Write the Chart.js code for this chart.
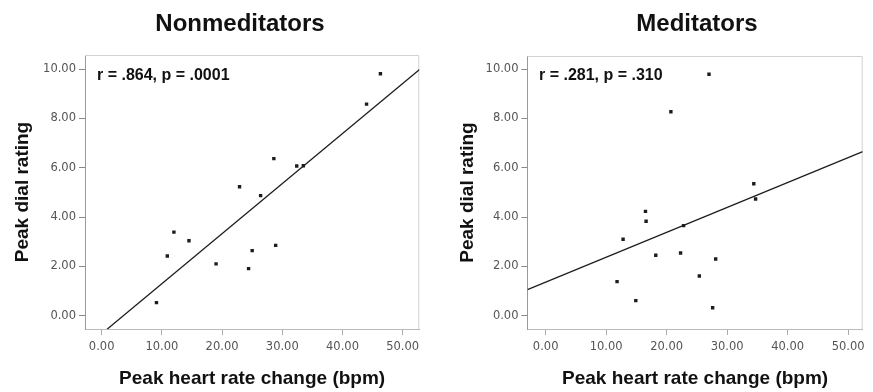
<!DOCTYPE html>
<html>
<head>
<meta charset="utf-8">
<script src="https://cdn.jsdelivr.net/npm/chart.js@4.4.1/dist/chart.umd.min.js"></script>
<style>
    html, body { margin: 0; padding: 0; background: #fff; }
    .m-wrap { position: relative; width: 873px; height: 392px; overflow: hidden; }
    .m-wrap canvas { position: absolute; top: 0; }
</style>
</head>
<body>
<div class="m-wrap">
    <canvas id="chartNon" width="436" height="392" style="left:0"></canvas>
    <canvas id="chartMed" width="437" height="392" style="left:436px"></canvas>
</div>
<script>
// values
const xTicks = [0, 10, 20, 30, 40, 50];
const yTicks = [0, 2, 4, 6, 8, 10];

const nonX = [9.1, 10.9, 12.0, 14.5, 19.0, 22.9, 24.4, 25.0, 26.4, 28.6, 28.9, 32.4, 33.5, 44.0, 46.3];
const nonY = [0.53, 2.42, 3.39, 3.04, 2.10, 5.23, 1.91, 2.64, 4.87, 6.37, 2.85, 6.07, 6.08, 8.58, 9.81];
const nonFitX = [-2.8, 52.8];
const nonFitY = [-1.30, 9.98];

const medX = [11.8, 12.8, 14.9, 16.5, 16.6, 18.2, 20.7, 22.3, 22.8, 25.4, 27.0, 27.6, 28.1, 34.4, 34.7];
const medY = [1.38, 3.10, 0.61, 4.23, 3.83, 2.45, 8.27, 2.54, 3.65, 1.61, 9.79, 0.32, 2.30, 5.35, 4.73];
const medFitX = [-3.0, 52.4];
const medFitY = [1.06, 6.65];

const BOLD = '"Liberation Sans", Arial, sans-serif';
const TICK = '"DejaVu Sans", Verdana, sans-serif';

class SCATTER {
    constructor(id, o) {
        this.id = id;
        this.o = o;
        this.render();
    }

    render() {
        const o = this.o;
        const pts = o.x.map((v, i) => ({ x: v, y: o.y[i] }));
        const fit = o.fitX.map((v, i) => ({ x: v, y: o.fitY[i] }));

        // title + r/p text, and the light box round the plot
        const panelText = {
            id: 'panelText',
            beforeDatasetsDraw(chart) {
                const c = chart.ctx, a = chart.chartArea;
                c.save();
                c.strokeStyle = '#d2d2d2';
                c.lineWidth = 1;
                c.beginPath();
                c.moveTo(a.left, a.top + 0.5);
                c.lineTo(a.right - 0.5, a.top + 0.5);
                c.lineTo(a.right - 0.5, a.bottom);
                c.stroke();
                c.restore();
            },
            afterDraw(chart) {
                const c = chart.ctx;
                c.save();
                c.fillStyle = '#111';
                c.textBaseline = 'alphabetic';
                c.font = 'bold 24px ' + BOLD;
                c.textAlign = 'center';
                c.fillText(o.title, o.titleX, 31);
                c.font = 'bold 16px ' + BOLD;
                c.textAlign = 'left';
                c.fillText(o.stat, o.statX, 80);
                c.restore();
            }
        };

        const ctx = document.getElementById(this.id).getContext('2d');
        new Chart(ctx, {
            type: 'scatter',
            data: {
                datasets: [{
                    data: pts,
                    pointStyle: 'rect',
                    pointRadius: 2.4,
                    backgroundColor: '#1c1c1c',
                    borderColor: '#1c1c1c',
                    borderWidth: 0
                }, {
                    type: 'line',
                    data: fit,
                    borderColor: '#1e1e1e',
                    borderWidth: 1.3,
                    pointRadius: 0,
                    fill: false
                }]
            },
            options: {
                responsive: false,
                animation: false,
                devicePixelRatio: 1,
                layout: { padding: { top: o.top, right: o.padRight, left: 0, bottom: 0 } },
                plugins: { legend: { display: false }, tooltip: { enabled: false }, title: { display: false } },
                scales: {
                    x: {
                        type: 'linear',
                        min: o.xMin,
                        max: o.xMax,
                        afterBuildTicks: s => { s.ticks = xTicks.map(v => ({ value: v })); },
                        afterFit: s => { s.height = 63; },
                        grid: { drawOnChartArea: false, tickLength: 6, tickColor: '#aaa' },
                        border: { color: '#bbb' },
                        ticks: {
                            padding: 5,
                            color: '#555',
                            font: { family: TICK, size: 11.5 },
                            callback: v => v.toFixed(2)
                        },
                        title: {
                            display: true,
                            text: 'Peak heart rate change (bpm)',
                            color: '#111',
                            font: { family: BOLD, size: 19, weight: 'bold' },
                            padding: { top: 0, bottom: 2 }
                        }
                    },
                    y: {
                        type: 'linear',
                        min: -0.54,
                        max: o.yMax,
                        afterBuildTicks: s => { s.ticks = yTicks.map(v => ({ value: v })); },
                        afterFit: s => { s.width = o.yWidth; },
                        grid: { drawOnChartArea: false, tickLength: 6, tickColor: '#888' },
                        border: { color: '#999' },
                        ticks: {
                            padding: 3,
                            color: '#555',
                            font: { family: TICK, size: 11.5 },
                            callback: v => v.toFixed(2)
                        },
                        title: {
                            display: true,
                            text: 'Peak dial rating',
                            color: '#111',
                            font: { family: BOLD, size: 19, weight: 'bold' },
                            padding: { top: o.yTitlePad, bottom: 0 }
                        }
                    }
                }
            },
            plugins: [panelText]
        });
    }
}

new SCATTER('chartNon', {
    title: 'Nonmeditators', titleX: 240,
    stat: 'r = .864, p = .0001', statX: 97,
    x: nonX, y: nonY, fitX: nonFitX, fitY: nonFitY,
    xMin: -2.77, xMax: 52.76, yMax: 10.57,
    top: 55, padRight: 16.7, yWidth: 85, yTitlePad: 11.5
});

new SCATTER('chartMed', {
    title: 'Meditators', titleX: 261,
    stat: 'r = .281, p = .310', statX: 103,
    x: medX, y: medY, fitX: medFitX, fitY: medFitY,
    xMin: -3.0, xMax: 52.4, yMax: 10.53,
    top: 56, padRight: 10.3, yWidth: 91.5, yTitlePad: 20
});
</script>
</body>
</html>
